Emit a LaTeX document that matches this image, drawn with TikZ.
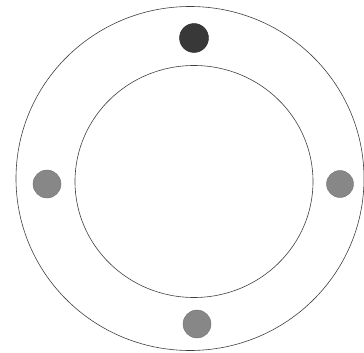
\documentclass[tikz,border=0pt]{standalone}
\begin{document}
\begin{tikzpicture}[x=1pt,y=-1pt,
  ring/.style={draw=black!75,line width=0.6pt},
  darkdot/.style={circle,fill=black!78,draw=black!85,line width=0.4pt,minimum size=29pt,inner sep=0pt},
  greydot/.style={circle,fill=black!47,draw=black!55,line width=0.4pt,minimum size=28pt,inner sep=0pt}]
\useasboundingbox[fill=white] (0,0) rectangle (364,353);
\draw[ring] (190,178.5) ellipse [x radius=174, y radius=172];
\draw[ring] (194,181.5) ellipse [x radius=119, y radius=116];
\node[darkdot] (top) at (194,38) {};
\node[greydot] (left) at (47,184) {};
\node[greydot,minimum size=27pt] (right) at (340,184) {};
\node[greydot] (bottom) at (197,324) {};
\end{tikzpicture}
\end{document}
